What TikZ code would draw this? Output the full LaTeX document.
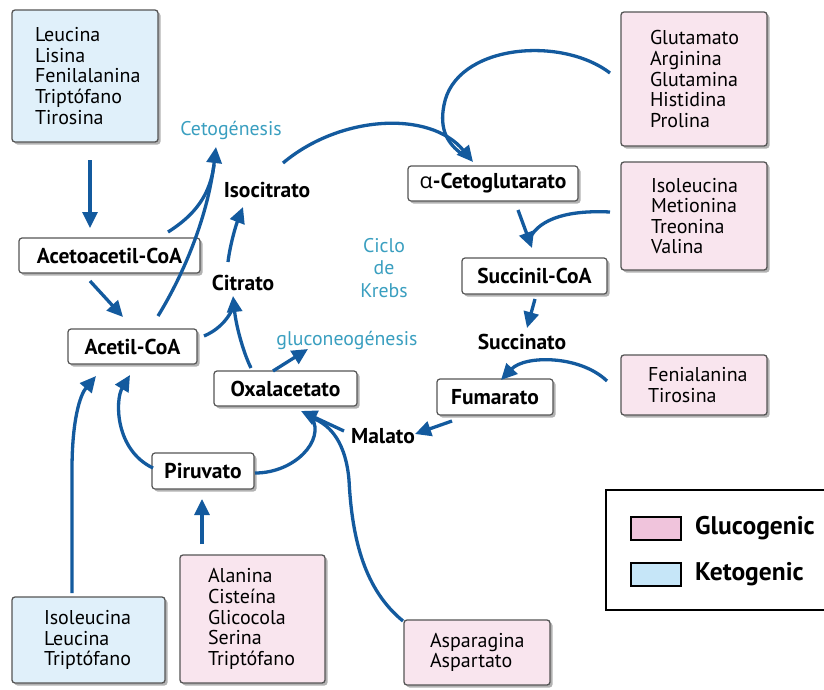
\documentclass[tikz,border=0pt]{standalone}
\usepackage{fontspec}
\setmainfont{PT Sans}
\newfontfamily\grkfont{Open Sans}
\usetikzlibrary{arrows.meta,shadows}
\definecolor{arrowblue}{HTML}{135A9E}
\definecolor{pinkfill}{HTML}{F9E5EE}
\definecolor{bluefill}{HTML}{E0F0FA}
\definecolor{pinkswatch}{HTML}{F0C4DC}
\definecolor{blueswatch}{HTML}{C6E6F8}
\definecolor{labteal}{HTML}{3A9FC0}
\definecolor{boxgray}{HTML}{555555}
\tikzset{
  shad/.style={drop shadow={shadow xshift=2.5pt,shadow yshift=-2.5pt,fill=black,opacity=0.3}},
  listbox/.style={draw=boxgray, line width=1.3pt, rounded corners=3pt, shad,
    align=left, inner sep=0pt, font=\fontsize{20}{20.6}\selectfont},
  pinkbox/.style={listbox, fill=pinkfill},
  bluebox/.style={listbox, fill=bluefill},
  plainbox/.style={draw=boxgray, line width=1.2pt, rounded corners=3pt, fill=white, shad,
    minimum height=35pt, inner sep=0pt, font=\bfseries\fontsize{21.5}{24}\selectfont},
  plainlabel/.style={inner sep=0pt, font=\bfseries\fontsize{21.5}{24}\selectfont},
  teallabel/.style={inner sep=0pt, text=labteal, align=center, font=\fontsize{19.8}{22.5}\selectfont},
  arr/.style={draw=arrowblue, line width=3.3pt, -{Triangle[length=16pt,width=15pt]}},
  arrnt/.style={draw=arrowblue, line width=3.3pt},
  swatch/.style={draw=black, line width=1.8pt, minimum width=50pt, minimum height=23pt, inner sep=0pt},
  legtext/.style={inner sep=0pt, anchor=west, font=\bfseries\fontsize{25.5}{28}\selectfont}
}
\begin{document}
\begin{tikzpicture}[x=1pt,y=-1pt]
\useasboundingbox (0,0) rectangle (824,689);
\fill[white] (0,0) rectangle (824,689);

% amino-acid boxes
\node[bluebox, minimum width=146pt, minimum height=132pt, text width=100pt] (kL) at (85,76)
  {Leucina\\Lisina\\Fenilalanina\\Triptófano\\Tirosina};
\node[pinkbox, minimum width=146pt, minimum height=134pt, text width=88pt] (gGlu) at (694,79)
  {Glutamato\\Arginina\\Glutamina\\Histidina\\Prolina};
\node[pinkbox, minimum width=146pt, minimum height=108pt, text width=86pt] (gIso) at (694,216)
  {Isoleucina\\Metionina\\Treonina\\Valina};
\node[pinkbox, minimum width=146pt, minimum height=60pt, text width=92pt] (gFen) at (694,385)
  {Fenialanina\\Tirosina};
\node[bluebox, minimum width=153pt, minimum height=86pt, text width=89pt] (kIso) at (88.5,640)
  {Isoleucina\\Leucina\\Triptófano};
\node[pinkbox, minimum width=145pt, minimum height=128pt, text width=89pt] (gAla) at (252.5,619)
  {Alanina\\Cisteína\\Glicocola\\Serina\\Triptófano};
\node[pinkbox, minimum width=146pt, minimum height=65pt, text width=94pt] (gAsp) at (477,652.5)
  {Asparagina\\Aspartato};

% metabolite boxes
\node[plainbox, minimum width=181pt] (aca) at (109.5,255.5) {Acetoacetil-CoA};
\node[plainbox, minimum width=129pt] (acetil) at (132.5,346.5) {Acetil-CoA};
\node[plainbox, minimum width=170pt] (akg) at (493,183.5) {{\grkfont\mdseries α}-Cetoglutarato};
\node[plainbox, minimum width=145pt, minimum height=36pt] (succoa) at (534.5,276) {Succinil-CoA};
\node[plainbox, minimum width=143pt] (oxa) at (285.5,388.5) {Oxalacetato};
\node[plainbox, minimum width=116pt, minimum height=36pt] (fum) at (495,397) {Fumarato};
\node[plainbox, minimum width=102pt, minimum height=36pt] (piru) at (203,471) {Piruvato};

% plain labels
\node[plainlabel] (iso) at (267,190) {Isocitrato};
\node[plainlabel] (cit) at (243,283) {Citrato};
\node[plainlabel] (succ) at (522,342) {Succinato};
\node[plainlabel] (mal) at (383,436) {Malato};

% teal labels
\node[teallabel] (ceto) at (231,130) {Cetogénesis};
\node[teallabel] (krebs) at (384,268) {Ciclo\\de\\Krebs};
\node[teallabel] (gluco) at (347,340) {gluconeogénesis};

% arrow coordinates
\coordinate (c1s) at (90,160);   \coordinate (c1e) at (90,228);
\coordinate (c2s) at (90,281);   \coordinate (c2e) at (123,317);
\coordinate (ctip) at (216,147);
\coordinate (c3s) at (168,232);  \coordinate (c4s) at (158,316);
\coordinate (c5s) at (228,262);  \coordinate (c5e) at (243,207);
\coordinate (cittip) at (233,296);
\coordinate (c6s) at (204,336);  \coordinate (c7s) at (251,368);
\coordinate (c8s) at (273,371);  \coordinate (c8e) at (308,349);
\coordinate (akgtip) at (473,162);
\coordinate (c9s) at (283,163);  \coordinate (c10s) at (610,73);
\coordinate (sctip) at (532,248);
\coordinate (scjoin) at (530,238);
\coordinate (c11s) at (518,210); \coordinate (c12s) at (610,212);
\coordinate (c13s) at (535,299); \coordinate (c13e) at (527,328);
\coordinate (c14s) at (607,381); \coordinate (c14e) at (501,380);
\coordinate (c15s) at (452,421); \coordinate (c15e) at (415,434);
\coordinate (otip) at (301,411);
\coordinate (ojoin) at (312,418);
\coordinate (c16s) at (344,431); \coordinate (c17s) at (255,473);
\coordinate (c18s) at (403,621);
\coordinate (c19s) at (153,468); \coordinate (c19e) at (130,375);
\coordinate (c20s) at (72,593);  \coordinate (c20e) at (96,376);
\coordinate (c21s) at (202,544); \coordinate (c21e) at (202,499);

% arrows
\draw[arr] (c1s) -- (c1e);
\draw[arr] (c2s) -- (c2e);
\draw[arrnt] (c3s) .. controls (195,215) and (210,195) .. (214,165);
\draw[arr] (c4s) .. controls (185,272) and (208,215) .. (ctip);
\draw[arr] (c5s) .. controls (230,245) and (236,225) .. (c5e);
\draw[arrnt] (c6s) .. controls (216,331) and (226,322) .. (232,310);
\draw[arr] (c7s) .. controls (243,352) and (236,325) .. (cittip);
\draw[arr] (c8s) -- (c8e);
\draw[arr] (c9s) .. controls (340,115) and (430,110) .. (akgtip);
\draw[arrnt] (c10s) .. controls (560,35) and (455,45) .. (444,105) .. controls (439,130) and (448,144) .. (462,154);
\draw[arr] (c11s) -- (sctip);
\draw[arrnt] (c12s) .. controls (570,210) and (540,218) .. (scjoin);
\draw[arr] (c13s) -- (c13e);
\draw[arr] (c14s) .. controls (580,355) and (525,355) .. (c14e);
\draw[arr] (c15s) -- (c15e);
\draw[arr] (c16s) -- (otip);
\draw[arrnt] (c17s) .. controls (295,473) and (325,440) .. (ojoin);
\draw[arrnt] (c18s) .. controls (365,590) and (352,540) .. (349,480) .. controls (346,445) and (332,425) .. (ojoin);
\draw[arr] (c19s) .. controls (115,450) and (115,400) .. (c19e);
\draw[arr] (c20s) -- (72,470) .. controls (72,420) and (80,395) .. (c20e);
\draw[arr] (c21s) -- (c21e);

% legend
\draw[black, line width=2.2pt] (606,490) rectangle (826,610);
\node[swatch, fill=pinkswatch] (swg) at (656,528.5) {};
\node[swatch, fill=blueswatch] (swk) at (656,574.5) {};
\node[legtext] (lg) at (695,528.5) {Glucogenic};
\node[legtext] (lk) at (695,574.5) {Ketogenic};
\end{tikzpicture}
\end{document}
